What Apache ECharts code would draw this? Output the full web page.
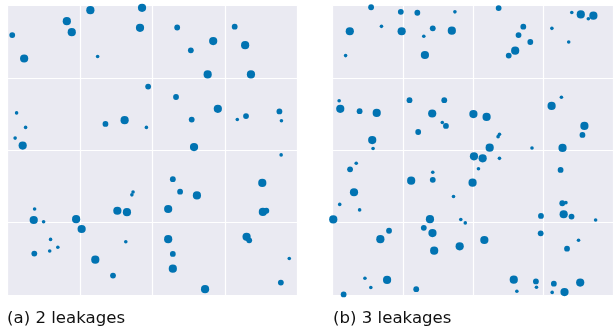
<!DOCTYPE html>
<html>
<head>
<meta charset="utf-8">
<script src="https://cdn.jsdelivr.net/npm/echarts@6/dist/echarts.min.js"></script>
<style>
  html, body { margin: 0; padding: 0; background: #ffffff; }
  #chart { width: 613px; height: 333px; }
</style>
</head>
<body>
<div id="chart"></div>
<script>
// Leak locations on a 0-100 field: [x, y, magnitude class (1 small, 2 medium, 3 large)]
const leaksTwo = [
  [20.5,94.6,3],[22.2,90.8,3],[1.7,89.8,2],[5.8,81.7,3],[28.6,98.4,3],[46.4,99.2,3],
  [45.7,92.3,3],[31.1,82.4,1],[48.5,72.0,2],[3.2,62.9,1],[6.3,57.9,1],[2.7,54.2,1],
  [5.3,51.6,3],[33.8,59.1,2],[40.4,60.4,3],[47.9,57.9,1],[58.5,92.4,2],[78.3,92.7,2],
  [70.9,87.7,3],[81.9,86.3,3],[63.2,84.5,2],[69.0,76.2,3],[83.9,76.2,3],[58.1,68.4,2],
  [72.5,64.3,3],[63.5,60.6,2],[79.2,60.6,1],[82.2,61.8,2],[93.7,63.4,2],[94.4,60.2,1],
  [64.3,51.1,3],[9.4,29.7,1],[9.1,25.9,3],[12.5,25.3,1],[23.7,26.2,3],[25.6,22.8,3],
  [37.9,29.1,3],[41.2,28.6,3],[43.3,35.6,1],[42.9,34.6,1],[14.9,19.2,1],[9.3,14.3,2],
  [14.6,15.2,1],[17.4,16.5,1],[40.8,18.4,1],[30.3,12.2,3],[36.4,6.7,2],[94.3,48.4,1],
  [57.0,40.0,2],[59.5,35.7,2],[65.3,34.4,3],[55.4,29.7,3],[87.8,38.7,3],[88.0,28.7,3],
  [89.2,29.1,2],[55.4,19.3,3],[57.0,14.2,2],[57.0,9.1,3],[68.1,2.0,3],[82.4,20.1,3],
  [83.3,18.9,2],[97.1,12.6,1],[94.2,4.3,2]
];

const leaksThree = [
  [13.7,99.4,2],[24.3,97.8,2],[30.2,97.5,2],[43.6,97.8,1],[6.1,91.1,3],[17.4,92.8,1],
  [24.6,91.1,3],[35.7,92.1,2],[42.5,91.3,3],[32.5,89.4,1],[4.6,82.7,1],[32.9,82.9,3],
  [2.3,67.1,1],[2.7,64.3,3],[9.6,63.5,2],[15.7,62.9,3],[27.4,67.3,2],[39.8,67.3,2],
  [35.5,62.7,3],[39.1,59.6,1],[40.4,58.4,2],[30.5,56.3,2],[14.1,53.5,3],[14.4,50.6,1],
  [59.2,99.1,2],[68.0,92.7,2],[66.3,89.8,2],[70.5,87.4,2],[65.1,84.4,3],[62.8,82.7,2],
  [85.3,97.6,1],[88.5,96.9,3],[91.2,95.4,1],[93.0,96.5,3],[78.2,92.1,1],[84.2,87.4,1],
  [50.2,62.5,3],[54.9,61.5,3],[59.5,55.5,1],[59.0,54.7,1],[56.0,50.9,3],[71.1,50.8,1],
  [81.6,68.3,1],[78.1,65.3,3],[89.8,58.4,3],[89.1,55.3,2],[82.0,50.8,3],[8.4,45.5,1],
  [6.2,43.4,2],[7.6,35.5,3],[2.5,31.3,1],[9.6,29.4,1],[0.2,26.1,3],[28.0,39.5,3],
  [35.7,42.4,1],[35.7,39.8,2],[43.1,34.0,1],[34.7,26.2,3],[45.7,26.1,1],[47.3,24.9,1],
  [32.5,23.2,2],[35.6,21.4,3],[20.1,22.2,2],[17.0,19.3,3],[36.2,15.3,3],[45.3,16.8,3],
  [11.5,5.8,1],[19.4,5.2,3],[13.6,2.6,1],[3.9,0.2,2],[29.8,2.0,2],[50.4,47.9,3],
  [53.5,47.2,3],[59.5,47.2,1],[52.0,43.6,1],[49.9,38.8,3],[81.3,43.2,2],[81.9,31.7,2],
  [83.2,31.9,1],[82.4,27.9,3],[85.2,27.1,2],[74.3,27.3,2],[93.8,25.9,1],[54.1,19.0,3],
  [74.2,21.3,2],[87.7,18.9,1],[83.6,16.0,2],[64.6,5.3,3],[72.5,4.7,2],[72.7,2.7,1],
  [65.7,1.3,1],[78.9,3.9,2],[78.3,0.9,1],[82.7,1.0,3],[88.3,4.3,3]
];

const captions = ['(a) 2 leakages', '(b) 3 leakages'];

const DOT = '#0173B2';
const PANEL_BG = '#EAEAF2';
const markerSize = { 1: 3.6, 2: 5.8, 3: 8.2 };

function axis(gridIndex) {
  return {
    type: 'value', gridIndex: gridIndex, min: 0, max: 100, interval: 25,
    axisLine: { show: false }, axisTick: { show: false }, axisLabel: { show: false },
    splitLine: { show: true, lineStyle: { color: '#ffffff', width: 1.2 } }
  };
}

function series(idx, data) {
  return {
    type: 'scatter', xAxisIndex: idx, yAxisIndex: idx,
    data: data,
    symbol: 'circle',
    symbolSize: function (v) { return markerSize[v[2]]; },
    itemStyle: { color: DOT, opacity: 1 },
    clip: true,
    silent: true
  };
}

const chart = echarts.init(document.getElementById('chart'), null, { renderer: 'canvas' });
chart.setOption({
  animation: false,
  backgroundColor: '#ffffff',
  grid: [
    { left: 7.3, top: 5.5, width: 290.4, height: 289.5, show: true, backgroundColor: PANEL_BG, borderWidth: 0 },
    { left: 332.7, top: 5.5, width: 290.4, height: 289.5, show: true, backgroundColor: PANEL_BG, borderWidth: 0 }
  ],
  xAxis: [axis(0), axis(1)],
  yAxis: [axis(0), axis(1)],
  series: [series(0, leaksTwo), series(1, leaksThree)],
  graphic: captions.map(function (t, i) {
    return {
      type: 'text', left: i === 0 ? 7 : 333, top: 310.5,
      style: { text: t, font: '16.6px "DejaVu Sans", Verdana, sans-serif', fill: '#111111' }
    };
  })
});
</script>
</body>
</html>
